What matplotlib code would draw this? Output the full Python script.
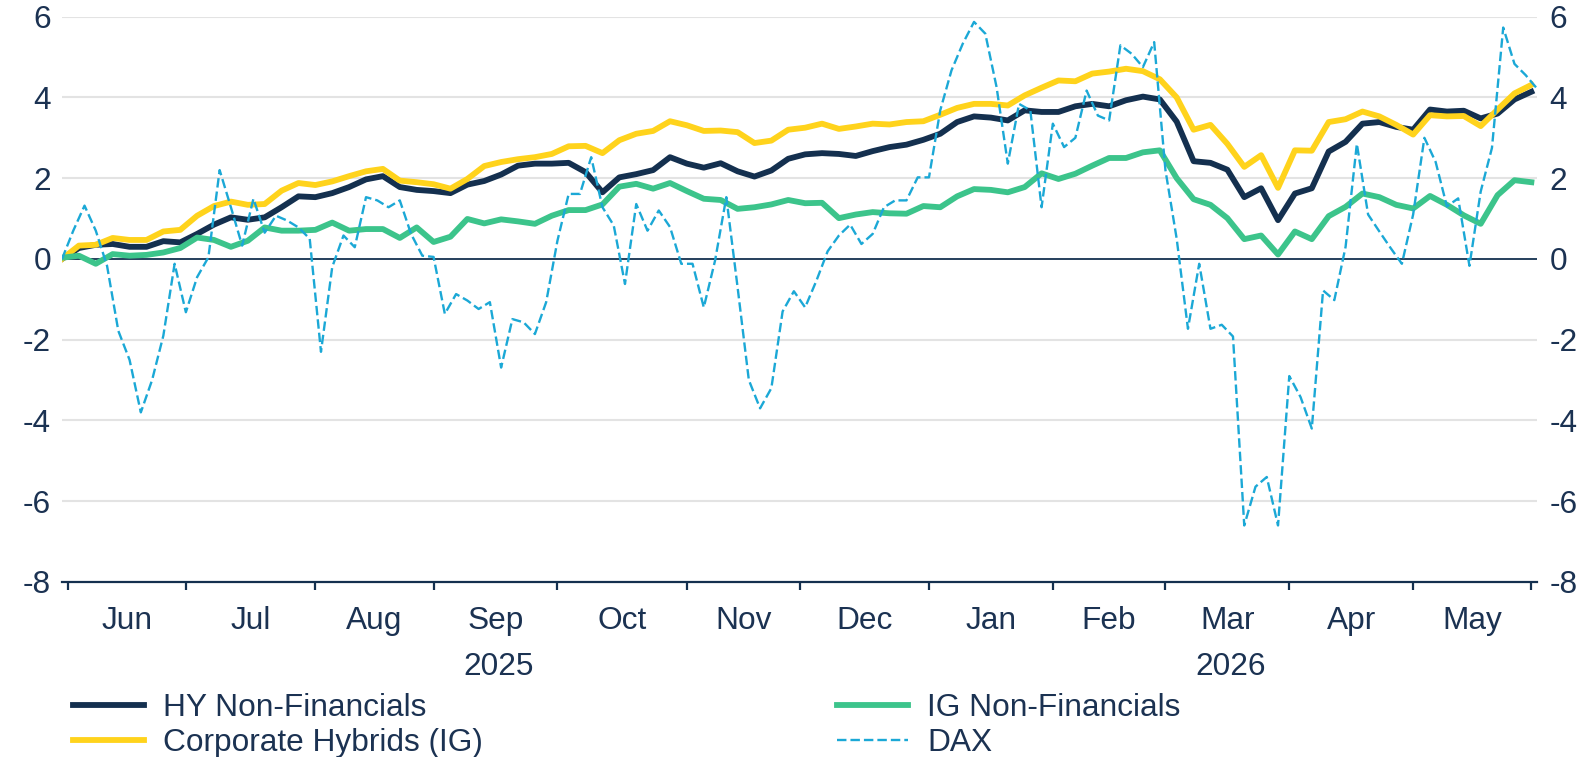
import numpy as np
import pandas as pd
import matplotlib
matplotlib.use("Agg")
import matplotlib.pyplot as plt
import matplotlib.transforms as mtransforms

plt.rcParams['font.family'] = ['Liberation Sans', 'DejaVu Sans']
plt.rcParams['axes.unicode_minus'] = False

# business-day axis, 30 May 2025 .. 2 Jun 2026
days = pd.bdate_range("2025-05-30", "2026-06-02")

# smooth series, read every 3rd business day
main_dates = days[::3]
hy = [0.00, 0.27, 0.35, 0.37, 0.30, 0.30, 0.44, 0.41, 0.62, 0.85,
      1.03, 0.97, 1.03, 1.28, 1.55, 1.53, 1.63, 1.78, 1.97, 2.05,
      1.78, 1.71, 1.68, 1.63, 1.84, 1.93, 2.09, 2.31, 2.36, 2.36,
      2.38, 2.15, 1.65, 2.02, 2.10, 2.20, 2.52, 2.36, 2.26, 2.37,
      2.17, 2.04, 2.19, 2.48, 2.59, 2.62, 2.60, 2.55, 2.67, 2.77,
      2.83, 2.95, 3.10, 3.39, 3.53, 3.50, 3.43, 3.68, 3.64, 3.64,
      3.78, 3.84, 3.78, 3.93, 4.02, 3.95, 3.40, 2.42, 2.38, 2.21,
      1.53, 1.75, 0.96, 1.62, 1.75, 2.66, 2.90, 3.35, 3.39, 3.27,
      3.20, 3.70, 3.65, 3.67, 3.48, 3.60, 3.95, 4.14]
hybrids = [0.00, 0.33, 0.35, 0.52, 0.47, 0.47, 0.68, 0.72, 1.07, 1.31,
           1.42, 1.34, 1.36, 1.69, 1.88, 1.83, 1.92, 2.05, 2.17, 2.23,
           1.94, 1.90, 1.85, 1.74, 1.98, 2.30, 2.40, 2.47, 2.52, 2.60,
           2.79, 2.80, 2.62, 2.94, 3.10, 3.17, 3.41, 3.31, 3.17, 3.18,
           3.14, 2.87, 2.93, 3.20, 3.25, 3.35, 3.22, 3.28, 3.35, 3.33,
           3.39, 3.41, 3.57, 3.74, 3.84, 3.84, 3.80, 4.05, 4.24, 4.42,
           4.40, 4.59, 4.64, 4.71, 4.65, 4.45, 4.00, 3.20, 3.32, 2.85,
           2.28, 2.57, 1.76, 2.69, 2.68, 3.39, 3.46, 3.65, 3.53, 3.32,
           3.08, 3.56, 3.53, 3.54, 3.29, 3.70, 4.10, 4.31]
ig = [0.03, 0.08, -0.12, 0.12, 0.08, 0.10, 0.16, 0.27, 0.53, 0.47,
      0.30, 0.45, 0.78, 0.70, 0.70, 0.72, 0.90, 0.70, 0.74, 0.74,
      0.52, 0.78, 0.42, 0.55, 0.99, 0.88, 0.98, 0.93, 0.87, 1.07,
      1.21, 1.21, 1.35, 1.79, 1.86, 1.74, 1.88, 1.68, 1.49, 1.46,
      1.24, 1.28, 1.35, 1.46, 1.38, 1.39, 1.01, 1.10, 1.16, 1.13,
      1.12, 1.31, 1.28, 1.55, 1.73, 1.71, 1.65, 1.78, 2.12, 1.98,
      2.11, 2.31, 2.50, 2.50, 2.64, 2.69, 2.00, 1.48, 1.34, 1.01,
      0.49, 0.58, 0.11, 0.68, 0.49, 1.06, 1.29, 1.62, 1.53, 1.34,
      1.25, 1.56, 1.34, 1.08, 0.87, 1.58, 1.95, 1.90]

# DAX, read every 2nd business day
dax_dates = days[::2]
dax = [0.00, 0.70, 1.32, 0.70, -0.17, -1.78, -2.50, -3.80, -3.00, -1.90,
       -0.12, -1.32, -0.45, 0.04, 2.20, 1.28, 0.33, 1.49, 0.65, 1.07,
       0.95, 0.78, 0.50, -2.30, -0.20, 0.58, 0.29, 1.53, 1.45, 1.28,
       1.45, 0.62, 0.08, 0.05, -1.36, -0.87, -1.03, -1.24, -1.07, -2.69,
       -1.49, -1.57, -1.86, -1.07, 0.45, 1.61, 1.61, 2.52, 1.28, 0.83,
       -0.62, 1.36, 0.70, 1.20, 0.79, -0.12, -0.12, -1.20, -0.04, 1.53,
       -0.70, -3.00, -3.70, -3.20, -1.30, -0.80, -1.20, -0.54, 0.19, 0.58,
       0.85, 0.37, 0.62, 1.28, 1.45, 1.45, 2.02, 2.02, 3.68, 4.67,
       5.33, 5.87, 5.58, 4.26, 2.36, 3.84, 3.68, 1.28, 3.35, 2.77,
       3.00, 4.17, 3.55, 3.43, 5.29, 5.08, 4.75, 5.37, 2.20, 0.50,
       -1.73, -0.12, -1.73, -1.63, -1.92, -6.60, -5.64, -5.40, -6.60, -2.90,
       -3.42, -4.20, -0.78, -1.02, 0.30, 2.85, 1.10, 0.68, 0.27, -0.12,
       1.10, 3.00, 2.40, 1.30, 1.50, -0.17, 1.67, 2.75, 5.73, 4.83,
       4.55, 4.22]

labels = ["HY Non-Financials", "Corporate Hybrids (IG)", "IG Non-Financials", "DAX"]
yticks = [-8, -6, -4, -2, 0, 2, 4, 6]

NAVY = "#14304f"
TXT = "#1b3252"
YELLOW = "#ffd31c"
GREEN = "#3cc48b"
BLUE = "#1ba8d6"
GRID = "#e3e3e3"
FS = 22.8

x_main = days.get_indexer(main_dates)
x_dax = days.get_indexer(dax_dates)

fig = plt.figure(figsize=(15.86, 7.57), dpi=100)
ax = fig.add_axes([0.0391, 0.2312, 0.9300, 0.7468])

for y in yticks[1:]:
    if y != 0:
        ax.axhline(y, color=GRID, lw=1.5, zorder=0)
ax.axhline(0, color=NAVY, lw=1.3, zorder=1)

l1, = ax.plot(x_main, hy, color=NAVY, lw=4.2, solid_joinstyle='round', zorder=3)
l2, = ax.plot(x_main, hybrids, color=YELLOW, lw=4.2, solid_joinstyle='round', zorder=3)
l3, = ax.plot(x_main, ig, color=GREEN, lw=4.2, solid_joinstyle='round', zorder=3)
l4, = ax.plot(x_dax, dax, color=BLUE, lw=1.7, dashes=(4, 1.7), zorder=4)

ax.set_xlim(0, len(days) - 1)
ax.set_ylim(-8, 6)
ax.set_yticks(yticks)
ax.tick_params(axis='y', length=0, pad=8, labelsize=FS, labelcolor=TXT)

for s in ['top', 'left', 'right']:
    ax.spines[s].set_visible(False)
ax.spines['bottom'].set_color(NAVY)
ax.spines['bottom'].set_linewidth(1.6)

# month ticks at first business day, labels mid-month
starts = [i for i in range(1, len(days)) if days[i].month != days[i - 1].month]
mids = [(a + b) / 2 for a, b in zip(starts[:-1], starts[1:])]
ax.set_xticks(starts)
ax.set_xticklabels([])
ax.set_xticks(mids, minor=True)
ax.set_xticklabels([days[s].strftime("%b") for s in starts[:-1]], minor=True)
ax.tick_params(axis='x', which='major', length=6, width=1.6, color=NAVY, direction='out')
ax.tick_params(axis='x', which='minor', length=0, pad=17, labelsize=FS, labelcolor=TXT)

jan = [s for s in starts if days[s].month == 1][0]
trans = mtransforms.blended_transform_factory(ax.transData, ax.transAxes)
ax.text((starts[0] + jan) / 2, -0.151, "2025", transform=trans, ha='center', va='center',
        fontsize=FS, color=TXT)
ax.text((jan + starts[-1]) / 2, -0.151, "2026", transform=trans, ha='center', va='center',
        fontsize=FS, color=TXT)

ax2 = ax.twinx()
ax2.set_ylim(-8, 6)
ax2.set_yticks(yticks)
ax2.tick_params(axis='y', length=0, pad=9, labelsize=FS, labelcolor=TXT)
for s in ax2.spines.values():
    s.set_visible(False)

fig.legend([l1, l2, l3, l4], labels, ncol=2, loc='upper left',
           bbox_to_anchor=(0.046, 0.085), frameon=False, fontsize=FS,
           labelcolor=TXT, handlelength=2.24, handletextpad=0.6,
           columnspacing=11.2, labelspacing=0.17, borderpad=0, borderaxespad=0)

fig.savefig("out.png", dpi=100)
